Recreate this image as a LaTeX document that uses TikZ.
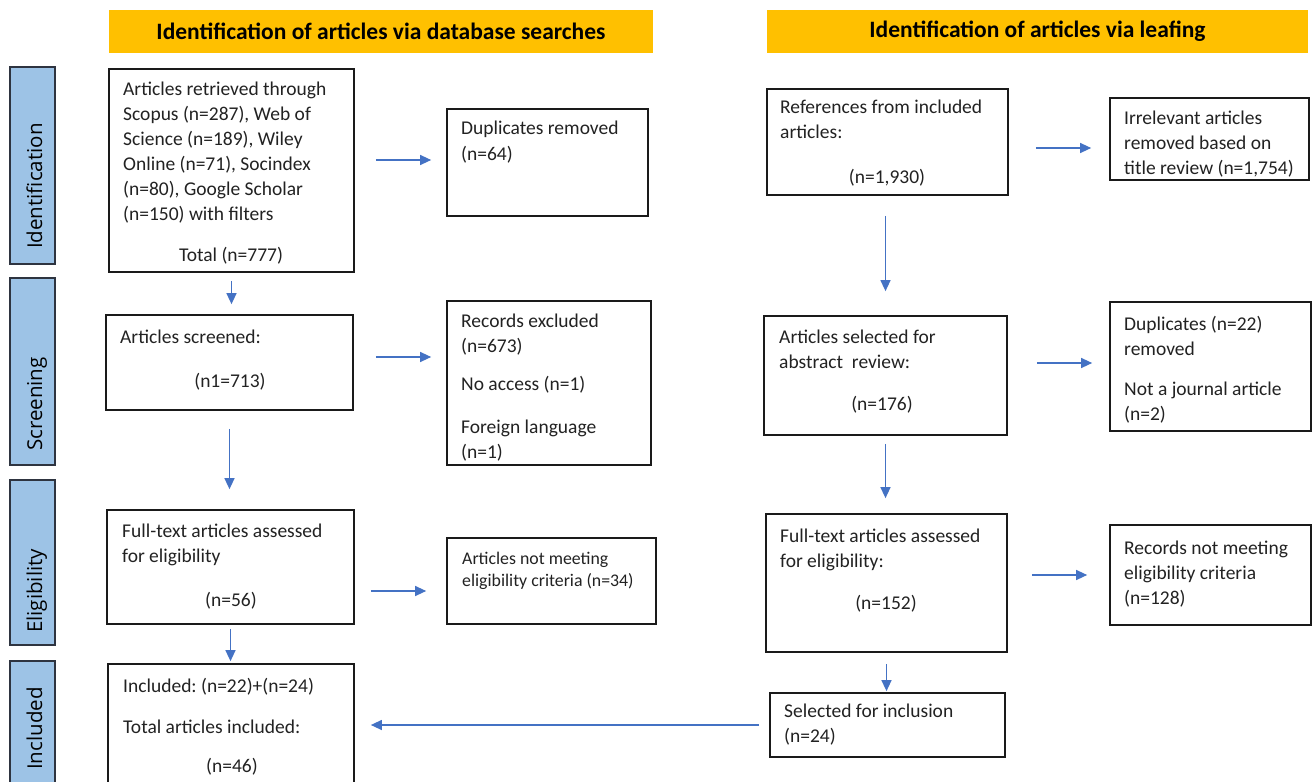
\documentclass[tikz,border=0pt]{standalone}
\usepackage{fontspec}
\setmainfont{Carlito}
\newfontfamily\sidefont{Open Sans}
\usetikzlibrary{arrows.meta,calc}
\frenchspacing
\definecolor{hdr}{HTML}{FFC000}
\definecolor{side}{HTML}{9DC3E6}
\definecolor{sidebd}{HTML}{2E3440}
\definecolor{arrc}{HTML}{4472C4}
\definecolor{boxc}{HTML}{1A1A1A}
\definecolor{txt}{HTML}{222222}
\tikzset{
  box/.style={draw=boxc, line width=1.7pt, fill=white, inner sep=0pt},
  hdrbox/.style={fill=hdr, inner sep=0pt, minimum height=43pt, font=\fontsize{23.5}{26}\selectfont\bfseries, text=black},
  sidebox/.style={fill=side, draw=sidebd, line width=1.8pt, minimum width=45pt, inner sep=0pt},
  sidetext/.style={rotate=90, anchor=base west, inner sep=0pt, font=\sidefont\fontsize{20.5}{24}\selectfont, text=black},
  tl/.style={anchor=base west, align=left, inner sep=0pt, text=txt, font=\fontsize{19.5}{25}\selectfont},
  tc/.style={anchor=base, inner sep=0pt, text=txt, font=\fontsize{19.5}{25}\selectfont},
  ts/.style={anchor=base west, align=left, inner sep=0pt, text=txt, font=\fontsize{17.8}{22}\selectfont},
  arr/.style={draw=arrc, line width=1.3pt, -{Triangle[length=11pt,width=10pt]}}
}
\begin{document}
\begin{tikzpicture}[x=1pt,y=-1pt]
\useasboundingbox (0,0) rectangle (1313,781);
% headers
\node[hdrbox, minimum width=544pt] (h1) at (381,31.5) {Identification of articles via database searches};
\node[hdrbox, minimum width=541pt] (h2) at (1037.5,31.5) {Identification of articles via leafing};
% side labels
\node[sidebox, minimum height=197pt] (s1) at (32.5,165.5) {};
\node[sidetext] (s1t) at (42,249) {Identification};
\node[sidebox, minimum height=187pt] (s2) at (32.5,371.5) {};
\node[sidetext] (s2t) at (42,451) {Screening};
\node[sidebox, minimum height=165pt] (s3) at (32.5,562.5) {};
\node[sidetext] (s3t) at (42,633) {Eligibility};
\node[sidebox, minimum height=140pt] (s4) at (32.5,731) {};
\node[sidetext] (s4t) at (42,770) {Included};
% left column boxes
\node[box, minimum width=245pt, minimum height=203pt] (A) at (231.5,170.5) {};
\node[box, minimum width=201pt, minimum height=107pt] (dup) at (547.5,162.5) {};
\node[box, minimum width=247pt, minimum height=95pt] (scr) at (229.5,362.5) {};
\node[box, minimum width=204pt, minimum height=164pt] (rex) at (549,383) {};
\node[box, minimum width=247pt, minimum height=114pt] (ft) at (230.5,567) {};
\node[box, minimum width=209pt, minimum height=86pt] (anm) at (551.5,581) {};
\node[box, minimum width=246pt, minimum height=140pt] (incl) at (231,734) {};
% right column boxes
\node[box, minimum width=241pt, minimum height=106pt] (refs) at (887.5,142) {};
\node[box, minimum width=199pt, minimum height=82pt] (irr) at (1209.5,139) {};
\node[box, minimum width=243pt, minimum height=119pt] (sel) at (885.5,375.5) {};
\node[box, minimum width=201pt, minimum height=129pt] (dup2) at (1210.5,366.5) {};
\node[box, minimum width=241pt, minimum height=138pt] (ft2) at (886.5,583) {};
\node[box, minimum width=201pt, minimum height=100pt] (rnm) at (1210.5,575) {};
\node[box, minimum width=235pt, minimum height=64pt] (inc) at (887.5,725) {};
% texts left (anchored at the baseline of the last line)
\node[tl] (At) at (123,220) {Articles retrieved through\\Scopus (n=287), Web of\\Science (n=189), Wiley\\Online (n=71), Socindex\\(n=80), Google Scholar\\(n=150) with filters};
\node[tc] (An) at (231,261) {Total (n=777)};
\node[tl] (dupt) at (461,160) {Duplicates removed\\(n=64)};
\node[tl] (scrt) at (120,343) {Articles screened:};
\node[tc] (scrn) at (230,387) {(n1=713)};
\node[tl] (rext) at (461,458) {Records excluded\\(n=673)\\[13pt]No access (n=1)\\[18pt]Foreign language\\(n=1)};
\node[tl] (ftt) at (122,562) {Full-text articles assessed\\for eligibility};
\node[tc] (ftn) at (231,606) {(n=56)};
\node[ts] (anmt) at (462,586) {Articles not meeting\\eligibility criteria (n=34)};
\node[tl] (inclt) at (123,733) {Included: (n=22)+(n=24)\\[16pt]Total articles included:};
\node[tc] (incln) at (232,772) {(n=46)};
% texts right
\node[tl] (refst) at (780,139) {References from included\\articles:};
\node[tc] (refsn) at (887,183) {(n=1,930)};
\node[tl] (irrt) at (1124,174) {Irrelevant articles\\removed based on\\title review (n=1,754)};
\node[tl] (selt) at (779,368) {Articles selected for\\abstract\ \ review:};
\node[tc] (seln) at (882,410) {(n=176)};
\node[tl] (dup2t) at (1124,420) {Duplicates (n=22)\\removed\\[15pt]Not a journal article\\(n=2)};
\node[tl] (ft2t) at (780,567) {Full-text articles assessed\\for eligibility:};
\node[tc] (ft2n) at (886,609) {(n=152)};
\node[tl] (rnmt) at (1124,604) {Records not meeting\\eligibility criteria\\(n=128)};
\node[tl] (inct) at (784,742) {Selected for inclusion\\(n=24)};
% vertical arrows
\draw[arr, shorten <=8pt, shorten >=10pt] (A.south) -- (A.south |- scr.north);
\draw[arr, shorten <=18pt, shorten >=20pt] (scr.south) -- (scr.south |- ft.north);
\draw[arr, shorten <=4pt, shorten >=2pt] (ft.south) -- (ft.south |- incl.north);
\draw[arr, shorten <=20pt, shorten >=24pt] (sel.north |- refs.south) -- (sel.north);
\draw[arr, shorten <=8pt, shorten >=15pt] (sel.south) -- (sel.south |- ft2.north);
\draw[arr, shorten <=11pt, shorten >=1pt] (ft2.south) -- (ft2.south |- inc.north);
\draw[arr, shorten <=10pt, shorten >=16pt] (inc.west) -- (incl.east |- inc.west);
% horizontal arrows
\draw[arr] ($(A.east)+(21,-10.5)$) -- ($(dup.west |- A.east)+(-15,-10.5)$);
\draw[arr] ($(scr.east)+(22,-5.5)$) -- ($(rex.west |- scr.east)+(-15,-5.5)$);
\draw[arr] ($(ft.east)+(16,24)$) -- ($(anm.west |- ft.east)+(-20,24)$);
\draw[arr] ($(refs.east)+(27,6)$) -- ($(irr.west |- refs.east)+(-18,6)$);
\draw[arr] ($(sel.east)+(29,-12.5)$) -- ($(dup2.west |- sel.east)+(-17,-12.5)$);
\draw[arr] ($(ft2.east)+(24,-8)$) -- ($(rnm.west |- ft2.east)+(-22,-8)$);
\end{tikzpicture}
\end{document}
